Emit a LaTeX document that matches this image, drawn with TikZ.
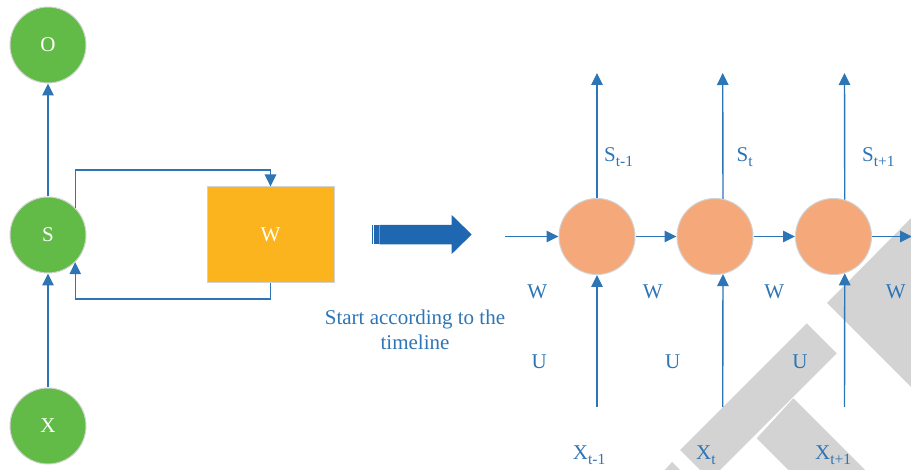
\documentclass[tikz,border=0pt]{standalone}
\usepackage{fontspec}
\setmainfont{Liberation Serif}
\usetikzlibrary{arrows.meta}

\definecolor{lineblue}{HTML}{2E75B6}
\definecolor{arrowblue}{HTML}{1F67B1}
\definecolor{nodegreen}{HTML}{62BB47}
\definecolor{cellorange}{HTML}{F5A97A}
\definecolor{wgold}{HTML}{FBB41E}
\definecolor{rimgray}{HTML}{D2D2D2}
\definecolor{markgray}{HTML}{D3D3D3}

% lowered index in a slightly smaller size
\newcommand\lowidx[1]{\raisebox{-0.22em}{\fontsize{15.5}{16}\selectfont #1}}

\tikzset{
  lbl/.style={font=\fontsize{21}{25}\selectfont, text=lineblue, inner sep=0pt},
  gnode/.style={circle, fill=nodegreen, draw=rimgray, line width=1pt,
    minimum size=76pt, inner sep=0pt, text=white, font=\fontsize{21}{25}\selectfont},
  cell/.style={circle, fill=cellorange, draw=rimgray, line width=1pt,
    minimum size=76pt, inner sep=0pt},
  wbox/.style={rectangle, fill=wgold, draw=rimgray, line width=1pt,
    minimum width=127pt, minimum height=96pt, inner sep=0pt, text=white,
    font=\fontsize{21}{25}\selectfont},
  flow/.style={draw=lineblue, line width=1.4pt,
    -{Triangle[length=12pt,width=11.5pt]}},
}

\begin{document}
\begin{tikzpicture}[x=1pt,y=-1pt]
\useasboundingbox (0,0) rectangle (911,470);

% background watermark strokes
\fill[markgray] (925,204) -- (827,303) -- (925,401) -- cycle;
\fill[markgray] (806.7,323.3) -- (836.7,353.3) -- (710,480) -- (680,450) -- cycle;
\fill[markgray] (793.3,398.3) -- (873.3,478.3) -- (796.7,478.3) -- (756.7,438.3) -- cycle;
\fill[markgray] (664,471) -- (672,462) -- (681,471) -- cycle;

% folded network
\node[gnode] (O) at (48,45) {O};
\node[gnode] (S) at (48,235) {S};
\node[gnode] (X) at (48,426) {X};
\node[wbox] (W) at (270.5,235) {W};

\draw[flow] (X) -- (S);
\draw[flow] (S) -- (O);

\coordinate (fbTop) at (270.5,170);
\coordinate (fbBot) at (270.5,299);
\draw[flow] (S.45) |- (fbTop) -- (W.north);
\draw[flow] (W.south) -- (fbBot) -| (S.-45);

% unfolding arrow
\fill[arrowblue] (371.7,225) rectangle (373.2,244.3);
\fill[arrowblue] (374.2,225) rectangle (378.5,244.3);
\fill[arrowblue] (379.4,225) -- (451.7,225) -- (451.7,215) -- (471.7,234.5)
  -- (451.7,254) -- (451.7,244.3) -- (379.4,244.3) -- cycle;

\node[lbl, align=center] (cap) at (415,330) {Start according to the\\timeline};

% unrolled network
\node[cell] (c1) at (597,236.5) {};
\node[cell] (c2) at (715,236.5) {};
\node[cell] (c3) at (833.5,236.5) {};

\coordinate (in0) at (505,236.5);
\coordinate (out3) at (912,236.5);
\draw[flow] (in0) -- (c1);
\draw[flow] (c1) -- (c2);
\draw[flow] (c2) -- (c3);
\draw[flow] (c3) -- (out3);

\coordinate (top1) at (597,73);
\coordinate (top2) at (722.7,73);
\coordinate (top3) at (844.5,73);
\draw[flow] (c1.north) -- (top1);
\draw[flow] (c2.78.3) -- (top2);
\draw[flow] (c3.73.2) -- (top3);

\coordinate (bot1) at (597,407);
\coordinate (bot2) at (722.7,407);
\coordinate (bot3) at (844.5,407);
\draw[flow] (bot1) -- (c1.south);
\draw[flow] (bot2) -- (c2.-78.3);
\draw[flow] (bot3) -- (c3.-73.2);

% state labels
\node[lbl, anchor=base west] (s1) at (604,161.7) {S\lowidx{t-1}};
\node[lbl, anchor=base west] (s2) at (736.5,161.7) {S\lowidx{t}};
\node[lbl, anchor=base west] (s3) at (862,161.7) {S\lowidx{t+1}};

% weight labels
\node[lbl, anchor=base] (w1) at (537.3,299) {W};
\node[lbl, anchor=base] (w2) at (652.7,299) {W};
\node[lbl, anchor=base] (w3) at (774.3,299) {W};
\node[lbl, anchor=base] (w4) at (895.7,299) {W};

\node[lbl, anchor=base] (u1) at (539.3,368.5) {U};
\node[lbl, anchor=base] (u2) at (672.7,368.5) {U};
\node[lbl, anchor=base] (u3) at (800,368.5) {U};

% input labels
\node[lbl, anchor=base west] (x1) at (572.7,460) {X\lowidx{t-1}};
\node[lbl, anchor=base west] (x2) at (696,460) {X\lowidx{t}};
\node[lbl, anchor=base west] (x3) at (815,460) {X\lowidx{t+1}};
\end{tikzpicture}
\end{document}
